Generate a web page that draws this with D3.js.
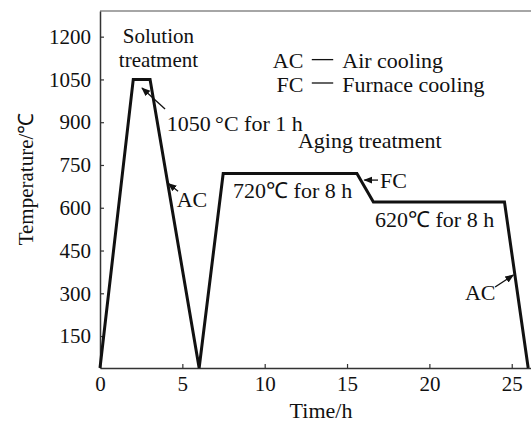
<!DOCTYPE html>
<html>
<head>
<meta charset="utf-8">
<script src="https://cdn.jsdelivr.net/npm/d3@7"></script>
<style>
  body { margin: 0; background: #fff; }
  text { font-family: "Liberation Serif", "Times New Roman", serif; fill: #111; }
</style>
</head>
<body>
<div id="chart"></div>
<script>
// Heat treatment schedule (time in h, temperature in degC)
const times = [0, 2.02, 3.04, 6.02, 7.48, 15.6, 16.6, 24.56, 26.0];
const temps = [38, 1050, 1050, 38, 720, 720, 620, 620, 38];

const xTicks = [0, 5, 10, 15, 20, 25];
const yTicks = [150, 300, 450, 600, 750, 900, 1050, 1200];

// labels placed in data units: [time, temp, text, anchor, size]
const labels = [
    [3.55, 1203, "Solution", "middle", 21],
    [3.55, 1121, "treatment", "middle", 21],
    [4.05, 897, "1050\u2009°C for 1 h", "start", 22],
    [4.66, 630, "AC", "start", 22],
    [12.02, 837, "Aging treatment", "start", 22],
    [8.08, 662, "720℃ for 8 h", "start", 22],
    [17.0, 697, "FC", "start", 22],
    [16.7, 560, "620℃ for 8 h", "start", 22],
    [22.16, 305, "AC", "start", 22]
];

// arrows: [tailTime, tailTemp, tipTime, tipTemp]
const arrows = [
    [3.95, 946, 2.55, 1020],
    [4.74, 658, 4.15, 685],
    [16.88, 697, 16.05, 697],
    [23.99, 322, 25.1, 364]
];

const legendAbbr = ["AC", "FC"];
const legendText = ["Air cooling", "Furnace cooling"];
const legendTemps = [1116, 1034];

const margin = {top: 11, right: 0, bottom: 55, left: 100},
    width = 531 - margin.left - margin.right,
    height = 423 - margin.top - margin.bottom;

const svg = d3.select("#chart")
    .append("svg")
    .attr("width", 531)
    .attr("height", 423)
    .append("g")
    .attr("transform", "translate(" + margin.left + "," + margin.top + ")");

svg.append("defs").append("marker")
    .attr("id", "head")
    .attr("viewBox", "0 0 10 10")
    .attr("refX", 9)
    .attr("refY", 5)
    .attr("markerWidth", 9)
    .attr("markerHeight", 9)
    .attr("markerUnits", "userSpaceOnUse")
    .attr("orient", "auto")
    .append("path")
    .attr("d", "M0,1 L10,5 L0,9 Z")
    .attr("fill", "#111");

const x = d3.scaleLinear().domain([0, 26.17]).range([0, width]);
const y = d3.scaleLinear().domain([38, 1290]).range([height, 0]);

// top border
svg.append("line")
    .attr("x1", 0).attr("x2", width)
    .attr("y1", 0).attr("y2", 0)
    .attr("stroke", "#888")
    .attr("stroke-width", 1.5);

// X axis
const xAxis = svg.append("g")
    .attr("transform", "translate(0," + height + ")")
    .call(d3.axisBottom(x).tickValues(xTicks).tickSize(-4).tickPadding(8).tickSizeOuter(0));

// Y axis
const yAxis = svg.append("g")
    .call(d3.axisLeft(y).tickValues(yTicks).tickFormat(d3.format("d"))
        .tickSize(-4).tickPadding(9).tickSizeOuter(0));

[xAxis, yAxis].forEach(function(a) {
    a.attr("font-family", '"Liberation Serif", serif');
    a.select(".domain").attr("stroke", "#333").attr("stroke-width", 1.5);
    a.selectAll(".tick line").attr("stroke", "#333").attr("stroke-width", 1.2);
    a.selectAll(".tick text")
        .style("font-size", "21px")
        .attr("fill", "#111");
});

// axis titles
svg.append("text")
    .attr("x", 221)
    .attr("y", height + 42)
    .attr("dy", "0.35em")
    .attr("text-anchor", "middle")
    .style("font-size", "22px")
    .text("Time/h");

svg.append("text")
    .attr("transform", "translate(-74," + 168 + ") rotate(-90)")
    .attr("dy", "0.35em")
    .attr("text-anchor", "middle")
    .style("font-size", "21px")
    .text("Temperature/℃");

// schedule line
const line = d3.line()
    .x(function(d, i) { return x(times[i]); })
    .y(function(d, i) { return y(temps[i]); });

svg.append("path")
    .datum(temps)
    .attr("d", line)
    .attr("fill", "none")
    .attr("stroke", "#111")
    .attr("stroke-width", 3)
    .attr("stroke-linejoin", "miter");

// annotations
svg.selectAll(".lbl")
    .data(labels)
    .enter()
    .append("text")
    .attr("class", "lbl")
    .attr("x", function(d) { return x(d[0]); })
    .attr("y", function(d) { return y(d[1]); })
    .attr("dy", "0.35em")
    .attr("text-anchor", function(d) { return d[3]; })
    .style("font-size", function(d) { return d[4] + "px"; })
    .text(function(d) { return d[2]; });

svg.selectAll(".arr")
    .data(arrows)
    .enter()
    .append("line")
    .attr("class", "arr")
    .attr("x1", function(d) { return x(d[0]); })
    .attr("y1", function(d) { return y(d[1]); })
    .attr("x2", function(d) { return x(d[2]); })
    .attr("y2", function(d) { return y(d[3]); })
    .attr("stroke", "#111")
    .attr("stroke-width", 1.3)
    .attr("marker-end", "url(#head)");

// legend
const legend = svg.selectAll(".leg")
    .data(legendAbbr)
    .enter()
    .append("g")
    .attr("class", "leg")
    .attr("transform", function(d, i) { return "translate(0," + y(legendTemps[i]) + ")"; });

legend.append("text")
    .attr("x", x(12.35))
    .attr("dy", "0.35em")
    .attr("text-anchor", "end")
    .style("font-size", "22px")
    .text(function(d) { return d; });

legend.append("line")
    .attr("x1", x(12.86)).attr("x2", x(14.16))
    .attr("y1", -1).attr("y2", -1)
    .attr("stroke", "#111")
    .attr("stroke-width", 1.3);

legend.append("text")
    .attr("x", x(14.71))
    .attr("dy", "0.35em")
    .style("font-size", "22px")
    .text(function(d, i) { return legendText[i]; });
</script>
</body>
</html>
